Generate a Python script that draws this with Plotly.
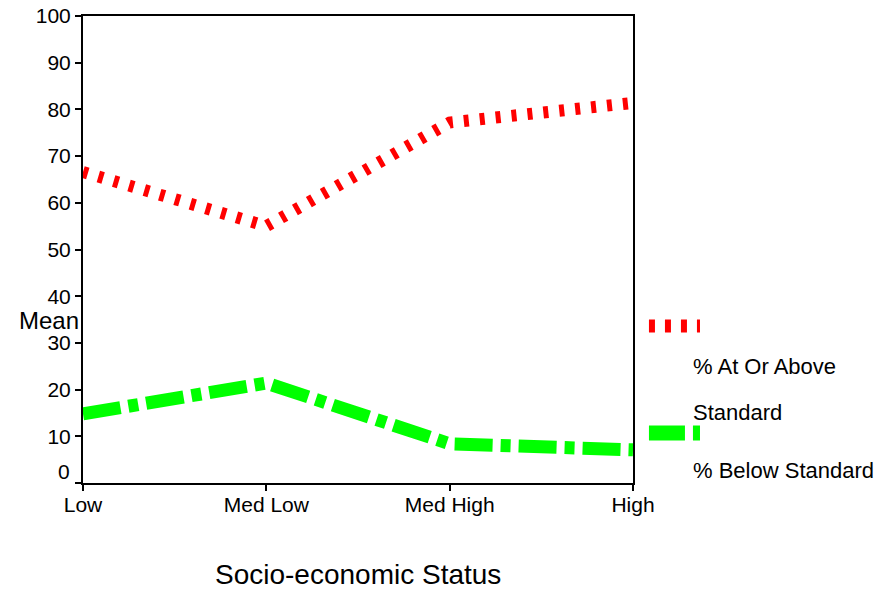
import plotly.graph_objects as go

# Socio-economic status groups and mean percentages
categories = ["Low", "Med Low", "Med High", "High"]
at_or_above = [66.6, 55.0, 77.2, 81.4]
below = [14.8, 21.4, 8.4, 7.1]
y_ticks = [0, 10, 20, 30, 40, 50, 60, 70, 80, 90, 100]

RED = "#FF0000"
GREEN = "#00FF00"
FONT = "Liberation Sans, Arial, sans-serif"

fig = go.Figure()
fig.add_trace(go.Scatter(
    x=categories, y=at_or_above, mode="lines",
    line=dict(color=RED, width=12, dash="5px,11px"),
    name="% At Or Above Standard",
))
fig.add_trace(go.Scatter(
    x=categories, y=below, mode="lines",
    line=dict(color=GREEN, width=13, dash="38px,8px,10px,8px"),
    name="% Below Standard",
))

# Left and bottom axes with a framing box
axis_common = dict(
    showline=True, linecolor="black", linewidth=2, mirror=True,
    ticks="outside", ticklen=6, tickwidth=2, tickcolor="black",
    showgrid=False, zeroline=False, automargin=False,
    tickfont=dict(family=FONT, size=21, color="black"),
)
fig.update_xaxes(type="category", range=[0, 3], ticklabelstandoff=-4, **axis_common)
fig.update_yaxes(
    range=[0, 100], tickvals=y_ticks,
    ticktext=["" if v == 0 else str(v) for v in y_ticks],
    **axis_common,
)

annotations = [
    # zero label sits slightly above its tick
    dict(x=0, xref="paper", y=0, yref="y", text="0", showarrow=False,
         xanchor="right", yanchor="middle", xshift=-11, yshift=12,
         font=dict(family=FONT, size=21, color="black")),
    # axis titles
    dict(x=0, xref="paper", y=0.347, yref="paper", text="Mean", showarrow=False,
         xanchor="right", yanchor="middle", xshift=-2,
         font=dict(family=FONT, size=24, color="black")),
    dict(x=0.5, xref="paper", y=-0.195, yref="paper", text="Socio-economic Status",
         showarrow=False, xanchor="center", yanchor="middle",
         font=dict(family=FONT, size=28, color="black")),
    # legend texts
    dict(x=1.1055, xref="paper", y=0.249, yref="paper", text="% At Or Above",
         showarrow=False, xanchor="left", yanchor="middle",
         font=dict(family=FONT, size=22, color="black")),
    dict(x=1.1055, xref="paper", y=0.152, yref="paper", text="Standard",
         showarrow=False, xanchor="left", yanchor="middle",
         font=dict(family=FONT, size=22, color="black")),
    dict(x=1.1055, xref="paper", y=0.026, yref="paper", text="% Below Standard",
         showarrow=False, xanchor="left", yanchor="middle",
         font=dict(family=FONT, size=22, color="black")),
]

# legend line samples
shapes = [
    dict(type="line", xref="paper", yref="paper", x0=1.029, x1=1.1218, y0=0.336, y1=0.336,
         line=dict(color=RED, width=13, dash="6px,10px")),
    dict(type="line", xref="paper", yref="paper", x0=1.029, x1=1.1218, y0=0.107, y1=0.107,
         line=dict(color=GREEN, width=15, dash="36px,8px,8px,8px")),
]

fig.update_layout(
    width=878, height=590,
    margin=dict(l=83, r=245, t=16, b=107),
    paper_bgcolor="white", plot_bgcolor="white",
    showlegend=False,
    annotations=annotations, shapes=shapes,
    font=dict(family=FONT, color="black"),
)

fig.write_html("out.html")
